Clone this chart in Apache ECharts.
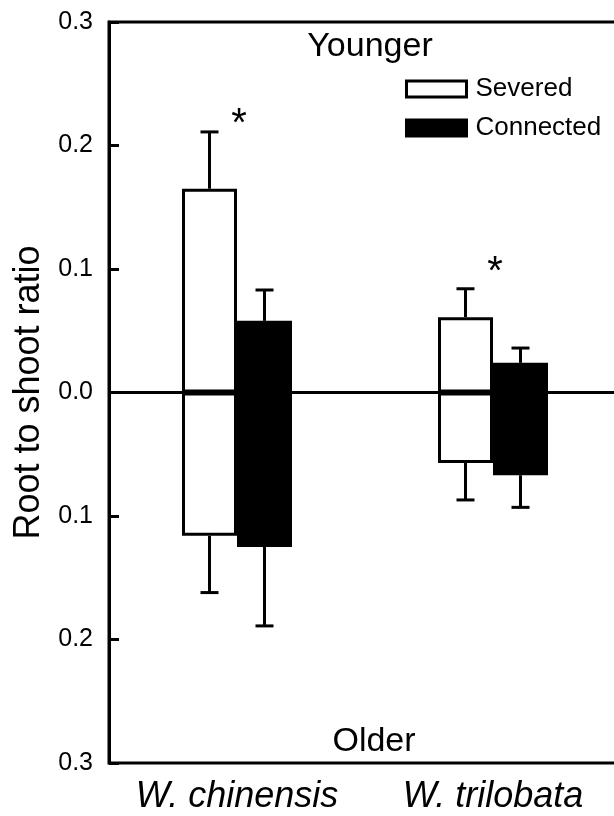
<!DOCTYPE html>
<html>
<head>
<meta charset="utf-8">
<script src="https://cdn.jsdelivr.net/npm/echarts@6/dist/echarts.min.js"></script>
<style>
  html, body { margin: 0; padding: 0; background: #fff; }
  #main { width: 614px; height: 816px; }
</style>
</head>
<body>
<div id="main"></div>
<script>
// species
const categories = ['W. chinensis', 'W. trilobata'];

// younger (positive) and older (negative) root to shoot ratios, with SE
const severedYounger = [0.165, 0.061];
const severedYoungerErr = [0.046, 0.023];
const severedOlder = [-0.116, -0.057];
const severedOlderErr = [0.046, 0.030];

const connectedYounger = [0.058, 0.024];
const connectedYoungerErr = [0.025, 0.012];
const connectedOlder = [-0.125, -0.067];
const connectedOlderErr = [0.064, 0.026];

// where the significance star sits (y value)
const starAt = [0.221, 0.101];

const FONT = 'Liberation Sans';
const BAR_W = 55;
const CAP = 9;

const myChart = echarts.init(document.getElementById('main'));

function errData(mean, err, sign) {
  return mean.map((m, i) => [i, m, m + sign * err[i]]);
}

function errRender(offset) {
  return function (params, api) {
    const a = api.coord([api.value(0), api.value(1)]);
    const b = api.coord([api.value(0), api.value(2)]);
    const x = a[0] + offset;
    const st = { stroke: '#000', lineWidth: 3 };
    return {
      type: 'group',
      children: [
        { type: 'line', shape: { x1: x, y1: a[1], x2: x, y2: b[1] }, style: st },
        { type: 'line', shape: { x1: x - CAP, y1: b[1], x2: x + CAP, y2: b[1] }, style: st }
      ]
    };
  };
}

const option = {
  animation: false,
  grid: {
    left: 109, width: 512, top: 22, bottom: 53,
    outerBoundsMode: 'none',
    containLabel: false,
    show: true, borderColor: '#000', borderWidth: 3
  },
  legend: {
    data: ['Severed', 'Connected'],
    orient: 'vertical',
    left: 400, top: 71,
    icon: 'rect',
    itemWidth: 60, itemHeight: 16, itemGap: 13,
    itemStyle: { borderColor: '#000', borderWidth: 3 },
    textStyle: { fontFamily: FONT, fontSize: 26, color: '#000', padding: [0, 0, 0, 4] }
  },
  xAxis: {
    type: 'category',
    data: categories,
    axisLine: { show: false, onZero: false },
    axisTick: { show: false },
    axisLabel: {
      fontFamily: FONT, fontStyle: 'italic', fontSize: 36, color: '#000', margin: 16,
      interval: 0, hideOverlap: false
    }
  },
  yAxis: {
    type: 'value',
    min: -0.3, max: 0.3, interval: 0.1,
    name: 'Root to shoot ratio',
    nameLocation: 'middle',
    nameGap: 60,
    nameTextStyle: { fontFamily: FONT, fontSize: 36, color: '#000' },
    axisLine: { show: true, lineStyle: { color: '#000', width: 3 } },
    axisTick: { show: true, inside: true, length: 10, lineStyle: { color: '#000', width: 3 } },
    axisLabel: {
      fontFamily: FONT, fontSize: 25, color: '#000', margin: 16,
      formatter: v => Math.abs(v).toFixed(1)
    },
    splitLine: { show: false }
  },
  series: [
    {
      name: 'Severed', type: 'bar', stack: 'sev', barWidth: BAR_W, barGap: 0,
      data: severedYounger,
      itemStyle: { color: '#fff', borderColor: '#000', borderWidth: 3 },
      markLine: {
        silent: true, symbol: ['none', 'none'],
        label: { show: false },
        lineStyle: { color: '#000', width: 3, type: 'solid' },
        data: [{ yAxis: 0 }]
      }
    },
    {
      name: 'Severed', type: 'bar', stack: 'sev', barWidth: BAR_W, barGap: 0,
      data: severedOlder,
      itemStyle: { color: '#fff', borderColor: '#000', borderWidth: 3 }
    },
    {
      name: 'Connected', type: 'bar', stack: 'con', barWidth: BAR_W, barGap: 0,
      data: connectedYounger,
      itemStyle: { color: '#000', borderColor: '#000', borderWidth: 2 }
    },
    {
      name: 'Connected', type: 'bar', stack: 'con', barWidth: BAR_W, barGap: 0,
      data: connectedOlder,
      itemStyle: { color: '#000', borderColor: '#000', borderWidth: 2 }
    },
    {
      name: 'sevErr', type: 'custom', z: 5,
      renderItem: errRender(-BAR_W / 2),
      data: errData(severedYounger, severedYoungerErr, 1).concat(errData(severedOlder, severedOlderErr, -1))
    },
    {
      name: 'conErr', type: 'custom', z: 5,
      renderItem: errRender(BAR_W / 2),
      data: errData(connectedYounger, connectedYoungerErr, 1).concat(errData(connectedOlder, connectedOlderErr, -1))
    },
    {
      name: 'stars', type: 'custom', z: 5,
      renderItem: function (params, api) {
        const p = api.coord([api.value(0), api.value(1)]);
        return {
          type: 'text',
          style: {
            text: '*', x: p[0] + 2, y: p[1] + 5,
            font: '40px "Liberation Sans"', fill: '#000',
            align: 'center', verticalAlign: 'middle'
          }
        };
      },
      data: starAt.map((v, i) => [i, v])
    }
  ],
  graphic: [
    {
      type: 'text', x: 370, y: 47,
      style: { text: 'Younger', font: '34px "Liberation Sans"', fill: '#000', align: 'center', verticalAlign: 'middle' }
    },
    {
      type: 'text', x: 374, y: 742,
      style: { text: 'Older', font: '34px "Liberation Sans"', fill: '#000', align: 'center', verticalAlign: 'middle' }
    }
  ]
};

myChart.setOption(option);
</script>
</body>
</html>
